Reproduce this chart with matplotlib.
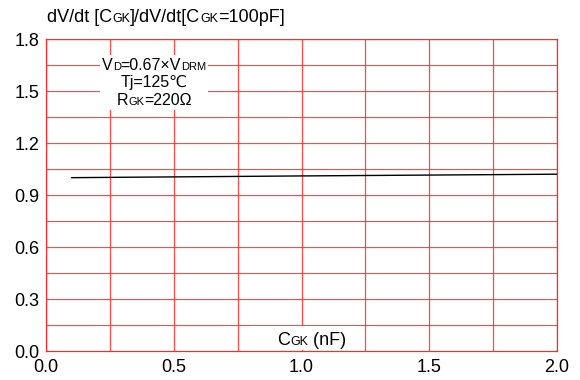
import matplotlib
matplotlib.use('Agg')
import matplotlib.pyplot as plt
import numpy as np

plt.rcParams['font.family'] = ['Liberation Sans', 'DejaVu Sans']

# data
cgk = [0.1, 1.0, 2.0]
ratio = [1.00, 1.01, 1.02]
xticks = [0.0, 0.5, 1.0, 1.5, 2.0]
yticks = [0.0, 0.3, 0.6, 0.9, 1.2, 1.5, 1.8]

grid_red = '#ff2a2a'
big, small = 11.5, 8.0
DESC = 0.212  # font descent as a fraction of size, to keep a common baseline

fig = plt.figure(figsize=(5.8, 3.8), dpi=100)
ax = fig.add_axes([46 / 580, 1 - 351 / 380, 511 / 580, 312 / 380])

ax.plot(cgk, ratio, color='black', lw=1.0, zorder=3)

ax.set_xlim(0, 2.0)
ax.set_ylim(0, 1.8)
ax.set_xticks(xticks)
ax.set_yticks(yticks)
ax.set_xticks(np.arange(0.25, 2.0, 0.5), minor=True)
ax.set_yticks(np.arange(0.15, 1.8, 0.3), minor=True)
ax.set_xticklabels(['%.1f' % v for v in xticks])
ax.set_yticklabels(['%.1f' % v for v in yticks])
ax.tick_params(which='both', length=0, labelsize=13)
ax.tick_params(axis='x', pad=6)
ax.tick_params(axis='y', pad=5)
ax.grid(which='both', color=grid_red, lw=0.9, alpha=0.85)
for s in ax.spines.values():
    s.set_color(grid_red)
    s.set_linewidth(0.9)
ax.set_axisbelow(True)


def chain(first, first_size, pieces):
    arts = [first]
    prev, psize = first, first_size
    for txt, size in pieces:
        a = ax.annotate(txt, xy=(1, 0), xycoords=prev, fontsize=size,
                        xytext=(0, DESC * (psize - size)), textcoords='offset points',
                        ha='left', va='bottom', zorder=5, annotation_clip=False)
        arts.append(a)
        prev, psize = a, size
    return arts


def mixed(pieces, x, y):
    first = ax.text(x, y, pieces[0][0], fontsize=pieces[0][1],
                    ha='left', va='baseline', zorder=5)
    return chain(first, pieces[0][1], pieces[1:])


groups = [
    mixed([('V', big), ('D', small), ('=0.67×V', big), ('DRM', small)], 0.2, 1.621),
    mixed([('Tj=125℃', big)], 0.2, 1.523),
    mixed([('R', big), ('GK', small), ('=220Ω', big)], 0.2, 1.419),
    mixed([('C', 13), ('GK', 9), (' (nF)', 13)], 0.8, 0.035),
]
centers = [0.423, 0.423, 0.423, 1.041]

# white patches hiding the grid behind the labels
ax.add_patch(plt.Rectangle((0.211, 1.391), 0.423, 0.317,
                           facecolor='white', edgecolor='none', zorder=2))
ax.add_patch(plt.Rectangle((0.8, 0.004), 0.42, 0.141,
                           facecolor='white', edgecolor='none', zorder=2))

fig.canvas.draw()
r = fig.canvas.get_renderer()
inv = ax.transData.inverted()
for arts, cx in zip(groups, centers):
    x0 = arts[0].get_window_extent(r).x0
    x1 = arts[-1].get_window_extent(r).x1
    y = arts[0].get_position()[1]
    px = ax.transData.transform((cx, y))
    arts[0].set_position(tuple(inv.transform((px[0] - (x1 - x0) / 2, px[1]))))

title0 = fig.text(47 / 580, 1 - 22 / 380, 'dV/dt [C', fontsize=13,
                  ha='left', va='baseline')
chain(title0, 13, [('GK', 9), (']/dV/dt[C', 13), ('GK', 9), ('=100pF]', 13)])

fig.savefig('out.png', dpi=100)
